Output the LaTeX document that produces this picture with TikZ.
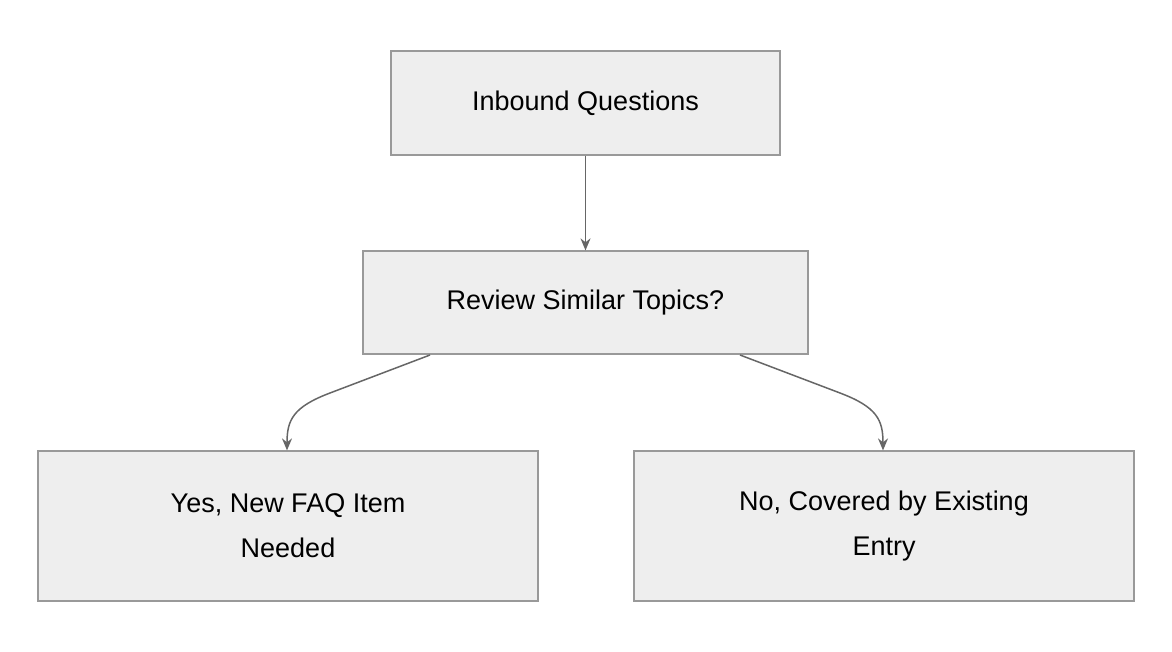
\documentclass[tikz,border=0pt]{standalone}
\usepackage{fontspec}
\setmainfont{Liberation Sans}
\usetikzlibrary{arrows.meta}
\definecolor{boxfill}{HTML}{EEEEEE}
\definecolor{boxline}{HTML}{999999}
\definecolor{edgeline}{HTML}{666666}
\begin{document}
\begin{tikzpicture}[x=1pt,y=-1pt,
    box/.style={draw=boxline,fill=boxfill,line width=1.2pt,align=center,
      inner sep=0pt,font=\fontsize{27}{45}\selectfont},
    edge/.style={draw=edgeline,line width=1.5pt,-{Stealth[length=12pt,width=10pt]}}]
    \useasboundingbox (0,0) rectangle (1172,652);
    % boxes
    \node[box,minimum width=389pt,minimum height=104pt] (inbound) at (585.5,103) {Inbound Questions};
    \node[box,minimum width=445pt,minimum height=103pt] (review) at (585.5,302.5) {Review Similar Topics?};
    \node[box,minimum width=500pt,minimum height=150pt] (yes) at (288,526) {Yes, New FAQ Item\\Needed};
    \node[box,minimum width=500pt,minimum height=150pt] (no) at (884,526) {No, Covered by Existing\\Entry};
    % connectors
    \coordinate (ys) at (430,355);
    \coordinate (ns) at (740,355);
    \draw[edge] (inbound) -- (review);
    \draw[edge] (ys) -- (330,393) .. controls (293,407) and (287,420) .. (yes.north-|287,0);
    \draw[edge] (ns) -- (840,393) .. controls (877,407) and (883,420) .. (no.north-|883,0);
\end{tikzpicture}
\end{document}
